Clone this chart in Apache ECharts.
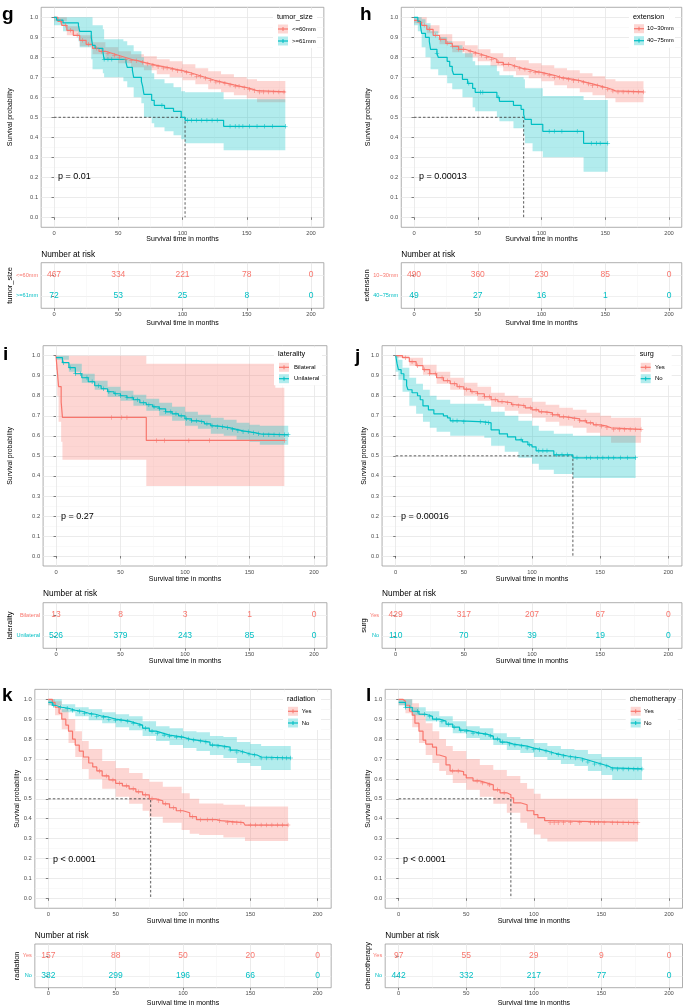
<!DOCTYPE html>
<html><head><meta charset="utf-8">
<script src="https://cdn.jsdelivr.net/npm/echarts/dist/echarts.min.js"></script>
<style>html,body{margin:0;padding:0;background:#fff}#c{width:685px;height:1008px}</style>
</head><body><div id="c"></div>
<script>
// ---------- tick labels ----------
const xTicks = [0, 50, 100, 150, 200];
const xMinor = [25, 75, 125, 175];
const yTicks = [0, 0.1, 0.2, 0.3, 0.4, 0.5, 0.6, 0.7, 0.8, 0.9, 1.0];
const yMinor = [0.05, 0.15, 0.25, 0.35, 0.45, 0.55, 0.65, 0.75, 0.85, 0.95];
const riskTimes = [0, 50, 100, 150, 200];

// ---------- panel g : tumor_size ----------
const gGroups = ['<=60mm', '>=61mm'];
const gRed = [[0,1.0],[3,0.98],[6,0.96],[10,0.935],[15,0.91],[20,0.885],[25,0.865],[30,0.845],[35,0.83],[40,0.82],[45,0.81],[50,0.80],[55,0.79],[60,0.783],[65,0.775],[70,0.767],[75,0.76],[80,0.753],[85,0.747],[90,0.74],[95,0.733],[100,0.725],[105,0.715],[110,0.705],[115,0.695],[120,0.685],[125,0.677],[130,0.67],[135,0.662],[140,0.655],[145,0.648],[150,0.64],[155,0.633],[158,0.627],[180,0.627]];
const gRedCI = [[0,0.98,1.0],[10,0.91,0.955],[20,0.855,0.91],[30,0.815,0.875],[40,0.79,0.85],[50,0.77,0.83],[60,0.75,0.815],[70,0.735,0.805],[80,0.715,0.79],[90,0.70,0.78],[100,0.685,0.765],[110,0.665,0.745],[120,0.64,0.73],[130,0.625,0.715],[140,0.61,0.70],[150,0.595,0.69],[158,0.575,0.682],[180,0.575,0.682]];
const gRedCens = [5,9,13,18,22,27,33,37,42,47,51,56,60,64,69,73,77,81,85,88,92,96,99,103,107,111,114,118,122,126,129,133,137,141,144,148,152,156,160,163,167,171,175,179];
const gTeal = [[0,1.0],[2,0.986],[7,0.972],[19,0.958],[20,0.93],[29,0.90],[30,0.86],[32,0.845],[38,0.83],[39,0.79],[54,0.79],[56,0.775],[57,0.75],[61,0.735],[62,0.70],[68,0.68],[69,0.655],[70,0.615],[76,0.585],[78,0.56],[86,0.545],[93,0.53],[99,0.50],[102,0.485],[132,0.455],[180,0.455]];
const gTealCI = [[0,0.96,1.0],[7,0.93,1.0],[19,0.88,1.0],[20,0.85,1.0],[29,0.79,1.0],[30,0.74,0.96],[38,0.72,0.94],[39,0.70,0.89],[54,0.68,0.88],[57,0.65,0.86],[62,0.60,0.83],[68,0.57,0.80],[70,0.50,0.76],[76,0.47,0.72],[78,0.45,0.69],[86,0.43,0.67],[93,0.41,0.65],[99,0.39,0.63],[102,0.37,0.625],[132,0.335,0.59],[180,0.335,0.59]];
const gTealCens = [39,42,45,84,104,107,111,115,119,123,127,137,141,144,147,152,158,164,170,180];
const gMedian = 102;
const gP = 'p = 0.01';
const gRiskA = [467, 334, 221, 78, 0];
const gRiskB = [72, 53, 25, 8, 0];

// ---------- panel h : extension ----------
const hGroups = ['10~30mm', '40~75mm'];
const hRed = [[0,0.985],[3,0.975],[6,0.96],[10,0.94],[15,0.91],[20,0.89],[25,0.87],[30,0.855],[35,0.84],[40,0.83],[45,0.82],[50,0.81],[55,0.80],[60,0.79],[65,0.775],[70,0.765],[75,0.755],[80,0.745],[85,0.74],[90,0.73],[95,0.725],[100,0.717],[105,0.71],[110,0.70],[115,0.695],[120,0.69],[125,0.683],[130,0.675],[135,0.667],[140,0.658],[145,0.65],[150,0.64],[155,0.632],[158,0.627],[180,0.627]];
const hRedCI = [[0,0.97,1.0],[10,0.92,0.96],[20,0.865,0.915],[30,0.825,0.88],[40,0.80,0.86],[50,0.78,0.84],[60,0.755,0.82],[70,0.73,0.80],[80,0.71,0.785],[90,0.695,0.77],[100,0.68,0.76],[110,0.66,0.745],[120,0.645,0.735],[130,0.625,0.72],[140,0.61,0.705],[150,0.595,0.69],[158,0.575,0.68],[180,0.575,0.68]];
const hRedCens = [4,8,12,17,21,26,30,35,39,44,48,53,57,61,66,70,74,79,83,87,91,95,98,102,106,110,114,117,121,125,129,133,137,140,144,148,152,156,160,164,168,172,176,180];
const hTeal = [[0,1.0],[3,0.98],[5,0.96],[6,0.92],[9,0.90],[12,0.88],[13,0.84],[18,0.82],[19,0.80],[26,0.78],[28,0.755],[30,0.735],[31,0.715],[38,0.69],[42,0.67],[46,0.645],[48,0.625],[65,0.60],[67,0.58],[78,0.56],[84,0.54],[86,0.515],[87,0.49],[92,0.465],[101,0.43],[133,0.37],[152,0.37]];
const hTealCI = [[0,0.96,1.0],[3,0.93,1.0],[6,0.85,0.99],[9,0.80,0.97],[13,0.74,0.93],[19,0.71,0.90],[26,0.67,0.88],[30,0.64,0.86],[38,0.60,0.82],[46,0.55,0.78],[48,0.53,0.76],[65,0.50,0.73],[67,0.48,0.71],[78,0.445,0.70],[86,0.41,0.69],[87,0.37,0.645],[93,0.33,0.645],[101,0.30,0.607],[133,0.228,0.587],[152,0.228,0.587]];
const hTealCens = [18,43,52,54,66,106,110,116,128,139,143,146,152];
const hMedian = 86;
const hP = 'p = 0.00013';
const hRiskA = [490, 360, 230, 85, 0];
const hRiskB = [49, 27, 16, 1, 0];

// ---------- panel i : laterality ----------
const iGroups = ['Bilateral', 'Unilateral'];
const iRed = [[0,1.0],[1,0.923],[2,0.846],[4,0.769],[5,0.692],[70,0.577],[177,0.577]];
const iRedCI = [[0,0.93,1.0],[1,0.80,1.0],[2,0.67,1.0],[4,0.57,1.0],[5,0.48,1.0],[70,0.35,0.96],[170,0.35,0.84],[177,0.35,0.84]];
const iRedCens = [43,51,55,78,84,103,119,177];
const iTeal = [[0,0.99],[5,0.965],[10,0.94],[15,0.91],[20,0.89],[25,0.87],[30,0.85],[35,0.835],[40,0.82],[45,0.81],[50,0.80],[55,0.79],[60,0.78],[65,0.765],[70,0.755],[75,0.745],[80,0.735],[85,0.72],[90,0.71],[95,0.70],[100,0.685],[105,0.675],[110,0.67],[115,0.66],[120,0.65],[125,0.645],[130,0.64],[135,0.632],[140,0.625],[145,0.62],[150,0.615],[155,0.61],[158,0.605],[180,0.605]];
const iTealCI = [[0,0.98,1.0],[10,0.92,0.96],[20,0.865,0.91],[30,0.83,0.875],[40,0.795,0.845],[50,0.775,0.825],[60,0.75,0.805],[70,0.725,0.785],[80,0.70,0.765],[90,0.675,0.745],[100,0.65,0.72],[110,0.635,0.705],[120,0.61,0.69],[130,0.60,0.68],[140,0.58,0.665],[150,0.57,0.655],[158,0.555,0.65],[180,0.55,0.65]];
const iTealCens = [6,11,15,19,24,28,33,37,41,46,50,55,59,63,68,72,76,80,85,89,93,97,101,105,109,113,117,121,125,129,133,137,141,145,149,153,157,161,165,169,173,177,180];
const iMedian = null;
const iP = 'p = 0.27';
const iRiskA = [13, 8, 3, 1, 0];
const iRiskB = [526, 379, 243, 85, 0];

// ---------- panel j : surg ----------
const jGroups = ['Yes', 'No'];
const jRed = [[0,1.0],[5,0.99],[10,0.97],[15,0.95],[20,0.93],[25,0.91],[30,0.89],[35,0.875],[40,0.86],[45,0.845],[50,0.833],[55,0.82],[60,0.81],[65,0.795],[70,0.78],[75,0.77],[80,0.765],[85,0.755],[90,0.75],[95,0.74],[100,0.73],[105,0.72],[110,0.715],[115,0.705],[120,0.695],[125,0.69],[130,0.685],[135,0.675],[140,0.665],[145,0.655],[150,0.648],[155,0.64],[158,0.632],[180,0.632]];
const jRedCI = [[0,0.99,1.0],[10,0.95,0.99],[20,0.905,0.955],[30,0.86,0.92],[40,0.83,0.89],[50,0.80,0.865],[60,0.775,0.845],[70,0.745,0.815],[80,0.725,0.80],[90,0.71,0.79],[100,0.69,0.77],[110,0.67,0.755],[120,0.65,0.74],[130,0.64,0.73],[140,0.615,0.715],[150,0.595,0.70],[158,0.565,0.69],[180,0.565,0.69]];
const jRedCens = [7,12,16,21,25,29,34,38,43,47,52,56,60,65,69,73,78,82,86,90,94,99,103,107,111,115,119,123,127,131,135,139,143,147,151,155,160,164,168,172,176,180];
const jTeal = [[0,1.0],[1,0.96],[2,0.93],[4,0.91],[6,0.88],[8,0.85],[9,0.83],[12,0.815],[16,0.80],[18,0.78],[20,0.75],[24,0.73],[28,0.71],[35,0.70],[38,0.69],[40,0.675],[48,0.67],[65,0.665],[70,0.63],[76,0.61],[82,0.595],[88,0.58],[93,0.57],[97,0.555],[100,0.545],[103,0.525],[116,0.505],[130,0.49],[176,0.49]];
const jTealCI = [[0,0.92,1.0],[2,0.88,0.98],[5,0.82,0.94],[10,0.75,0.89],[15,0.71,0.86],[20,0.67,0.83],[25,0.64,0.80],[30,0.62,0.78],[40,0.60,0.76],[65,0.59,0.75],[70,0.55,0.72],[80,0.52,0.70],[90,0.49,0.675],[100,0.46,0.65],[105,0.43,0.625],[116,0.41,0.61],[130,0.39,0.60],[176,0.39,0.60]];
const jTealCens = [42,45,50,62,66,68,92,98,105,108,111,118,122,126,133,140,143,148,152,156,160,165,170,176];
const jMedian = 130;
const jP = 'p = 0.00016';
const jRiskA = [429, 317, 207, 67, 0];
const jRiskB = [110, 70, 39, 19, 0];

// ---------- panel k : radiation ----------
const kGroups = ['Yes', 'No'];
const kRed = [[0,1.0],[3,0.985],[5,0.96],[8,0.93],[10,0.90],[13,0.87],[15,0.84],[18,0.80],[20,0.77],[23,0.74],[26,0.71],[30,0.68],[33,0.66],[36,0.64],[40,0.615],[45,0.595],[50,0.578],[55,0.565],[60,0.55],[65,0.535],[70,0.52],[75,0.50],[80,0.49],[85,0.475],[90,0.455],[95,0.44],[100,0.43],[105,0.41],[110,0.395],[125,0.39],[128,0.38],[145,0.375],[146,0.368],[178,0.368]];
const kRedCI = [[0,0.97,1.0],[5,0.92,0.99],[10,0.85,0.95],[15,0.78,0.90],[20,0.71,0.84],[25,0.65,0.79],[30,0.60,0.75],[40,0.55,0.69],[50,0.51,0.655],[60,0.475,0.63],[70,0.44,0.60],[75,0.41,0.586],[85,0.38,0.56],[99,0.343,0.528],[105,0.325,0.50],[112,0.318,0.477],[130,0.305,0.47],[146,0.288,0.461],[178,0.288,0.461]];
const kRedCens = [38,43,48,53,58,63,67,72,77,82,87,93,98,107,113,118,122,127,133,137,140,143,150,154,158,162,166,170,174,178];
const kTeal = [[0,0.985],[3,0.97],[5,0.96],[10,0.955],[15,0.945],[20,0.94],[25,0.93],[30,0.925],[35,0.915],[40,0.91],[45,0.90],[50,0.895],[55,0.89],[60,0.88],[65,0.87],[70,0.855],[75,0.84],[80,0.83],[85,0.82],[90,0.815],[95,0.81],[100,0.80],[105,0.795],[110,0.79],[115,0.785],[120,0.77],[125,0.765],[130,0.76],[135,0.745],[140,0.735],[145,0.725],[150,0.72],[155,0.71],[158,0.705],[180,0.705]];
const kTealCI = [[0,0.97,1.0],[10,0.935,0.975],[20,0.915,0.96],[30,0.895,0.95],[40,0.88,0.935],[50,0.86,0.925],[60,0.845,0.915],[70,0.815,0.89],[80,0.79,0.865],[90,0.77,0.855],[100,0.755,0.84],[110,0.74,0.835],[120,0.72,0.815],[130,0.705,0.81],[140,0.68,0.785],[150,0.665,0.775],[158,0.645,0.765],[180,0.645,0.765]];
const kTealCens = [4,9,14,18,23,27,32,36,41,45,50,54,59,63,68,72,77,81,86,90,95,99,104,108,113,117,122,126,131,135,140,144,149,153,158,162,166,170,174,177,180];
const kMedian = 76;
const kP = 'p < 0.0001';
const kRiskA = [157, 88, 50, 20, 0];
const kRiskB = [382, 299, 196, 66, 0];

// ---------- panel l : chemotherapy ----------
const lGroups = ['Yes', 'No'];
const lRed = [[0,1.0],[3,0.99],[5,0.97],[8,0.94],[10,0.92],[12,0.88],[15,0.84],[18,0.795],[20,0.775],[25,0.76],[28,0.72],[30,0.71],[35,0.67],[38,0.64],[45,0.637],[48,0.62],[50,0.605],[55,0.59],[60,0.58],[65,0.57],[70,0.545],[75,0.53],[80,0.52],[83,0.505],[85,0.48],[90,0.47],[95,0.44],[100,0.42],[103,0.405],[108,0.39],[110,0.38],[177,0.38]];
const lRedCI = [[0,0.97,1.0],[5,0.93,1.0],[10,0.86,0.98],[15,0.78,0.93],[20,0.72,0.88],[25,0.68,0.84],[30,0.64,0.80],[35,0.62,0.765],[40,0.58,0.74],[50,0.545,0.70],[60,0.51,0.67],[70,0.475,0.645],[80,0.43,0.615],[90,0.38,0.58],[95,0.35,0.55],[100,0.32,0.525],[105,0.30,0.50],[110,0.285,0.50],[177,0.285,0.50]];
const lRedCens = [40,44,58,62,67,73,78,112,115,118,122,127,134,142,145,148,152,158,162,166,170,174,177];
const lTeal = [[0,0.985],[5,0.96],[10,0.94],[15,0.925],[20,0.915],[25,0.90],[30,0.89],[35,0.875],[40,0.86],[45,0.845],[50,0.838],[55,0.83],[60,0.825],[65,0.815],[70,0.80],[75,0.785],[80,0.775],[85,0.77],[90,0.765],[95,0.755],[100,0.748],[105,0.74],[110,0.73],[115,0.722],[120,0.715],[125,0.71],[130,0.705],[135,0.695],[140,0.685],[145,0.675],[150,0.665],[155,0.655],[158,0.65],[180,0.65]];
const lTealCI = [[0,0.97,1.0],[10,0.92,0.96],[20,0.89,0.94],[30,0.86,0.915],[40,0.83,0.89],[50,0.805,0.865],[60,0.795,0.855],[70,0.77,0.83],[80,0.745,0.81],[90,0.73,0.80],[100,0.71,0.78],[110,0.695,0.765],[120,0.675,0.75],[130,0.665,0.745],[140,0.64,0.725],[150,0.62,0.71],[158,0.595,0.71],[180,0.595,0.71]];
const lTealCens = [5,9,14,19,23,28,32,37,41,46,50,55,59,64,68,73,77,82,86,91,95,100,104,109,113,118,122,127,131,136,140,145,149,154,158,162,166,170,174,177,180];
const lMedian = 83;
const lP = 'p < 0.0001';
const lRiskA = [97, 55, 29, 9, 0];
const lRiskB = [442, 332, 217, 77, 0];

// ---------- styling ----------
const RED = '#F8766D', TEAL = '#00BFC4';
const RED_BAND = 'rgba(248,118,109,0.30)', TEAL_BAND = 'rgba(0,191,196,0.30)';
const FONT = '"Liberation Sans", Arial, Helvetica, sans-serif';

const panels = [
  {letter:'g', title:'tumor_size', groups:gGroups, p:gP, lines:[gRed,gTeal], cens:[gRedCens,gTealCens], ci:[gRedCI,gTealCI], median:gMedian, risk:[gRiskA,gRiskB],
   L:{x0:54,x200:311,y1:17.3,y0:217.3,tabTop:262.7,tabBot:308.3,letX:2,letY:15,yTitX:10,tabTitX:10,pX:58,pY:177,xTitY:239,narY:255,tabXTitY:323,legX:278,legY:17,legW:44,legLab:14,legD1:12,legD2:24}},
  {letter:'h', title:'extension', groups:hGroups, p:hP, lines:[hRed,hTeal], cens:[hRedCens,hTealCens], ci:[hRedCI,hTealCI], median:hMedian, risk:[hRiskA,hRiskB],
   L:{x0:414,x200:669,y1:17.3,y0:217.3,tabTop:262.7,tabBot:308.3,letX:360,letY:15,yTitX:368,tabTitX:367,pX:419,pY:177,xTitY:239,narY:255,tabXTitY:323,legX:634,legY:16.7,legW:46,legLab:13,legD1:12,legD2:24}},
  {letter:'i', title:'laterality', groups:iGroups, p:iP, lines:[iRed,iTeal], cens:[iRedCens,iTealCens], ci:[iRedCI,iTealCI], median:iMedian, risk:[iRiskA,iRiskB],
   L:{x0:56,x200:314,y1:355.7,y0:556,tabTop:602.7,tabBot:648.3,letX:3,letY:355,yTitX:10,tabTitX:10,pX:61,pY:516.7,xTitY:579,narY:594,tabXTitY:661.5,legX:279,legY:354.3,legW:48,legLab:15,legD1:13,legD2:24.4}},
  {letter:'j', title:'surg', groups:jGroups, p:jP, lines:[jRed,jTeal], cens:[jRedCens,jTealCens], ci:[jRedCI,jTealCI], median:jMedian, risk:[jRiskA,jRiskB],
   L:{x0:395.7,x200:668.3,y1:355.7,y0:556,tabTop:602.7,tabBot:648.3,letX:355,letY:357,yTitX:364,tabTitX:364,pX:401,pY:516.7,xTitY:579,narY:594,tabXTitY:661.5,legX:640.7,legY:354.3,legW:36,legLab:14.3,legD1:13,legD2:24.4}},
  {letter:'k', title:'radiation', groups:kGroups, p:kP, lines:[kRed,kTeal], cens:[kRedCens,kTealCens], ci:[kRedCI,kTealCI], median:kMedian, risk:[kRiskA,kRiskB],
   L:{x0:48.3,x200:317.7,y1:699.3,y0:898.3,tabTop:944,tabBot:987.7,letX:2,letY:696,yTitX:17,tabTitX:16.7,pX:53,pY:860,xTitY:921,narY:935.7,tabXTitY:1002.7,legX:288,legY:699,legW:38,legLab:13.7,legD1:12.3,legD2:24}},
  {letter:'l', title:'chemotherapy', groups:lGroups, p:lP, lines:[lRed,lTeal], cens:[lRedCens,lTealCens], ci:[lRedCI,lTealCI], median:lMedian, risk:[lRiskA,lRiskB],
   L:{x0:398.7,x200:669,y1:699.3,y0:898.3,tabTop:944,tabBot:987.7,letX:366,letY:695.5,yTitX:368,tabTitX:368,pX:403,pY:860,xTitY:921,narY:935.7,tabXTitY:1002.7,legX:630.7,legY:699,legW:52,legLab:13.3,legD1:12.3,legD2:24}}
];

// ---------- builders ----------
const grids = [], xAxes = [], yAxes = [], series = [], gfx = [];
const PLUS = 'path://M4.4,0h1.2v10h-1.2z M0,4.4h10v1.2h-10z';

function stepAt(line, t) {
  let v = line[0][1];
  for (const p of line) { if (p[0] <= t) v = p[1]; else break; }
  return v;
}
function txt(x, y, text, size, opts) {
  opts = opts || {};
  return Object.assign({type:'text', x:x, y:y, z:60, silent:true,
    style:{text:text, fontSize:size, fontFamily:FONT, fill:opts.fill||'#000', fontWeight:opts.bold?'bold':'normal',
      align:opts.align||'left', verticalAlign:'middle'}}, opts.rot ? {rotation:Math.PI/2} : {});
}
function xAxisPair(gi, showLabels) {
  const a = xAxes.length;
  xAxes.push({gridIndex:gi, type:'value', min:-10, max:210, position:'bottom',
    axisLine:{show:false},
    axisTick:{show:true, customValues:xTicks, length:2.5, lineStyle:{color:'#333', width:0.6}},
    axisLabel:{show:showLabels, customValues:xTicks, fontSize:5.8, color:'#4d4d4d', margin:3, fontFamily:FONT},
    splitLine:{show:true, lineStyle:{color:'#e6e6e6', width:0.8}}});
  xAxes.push({gridIndex:gi, type:'value', min:-10, max:210, position:'top',
    axisLine:{show:false}, axisTick:{show:false, customValues:xMinor}, axisLabel:{show:false},
    splitLine:{show:true, lineStyle:{color:'#f3f3f3', width:0.5}}});
  return a;
}

panels.forEach((P, k) => {
  const L = P.L;
  const sx = L.x200 - L.x0, sy = L.y0 - L.y1;
  const left = L.x0 - 0.05 * sx, width = 1.1 * sx;
  const top = L.y1 - 0.05 * sy, height = 1.1 * sy;
  const gPlot = grids.length;
  grids.push({left:left, top:top, width:width, height:height, show:true, borderColor:'#9a9a9a', borderWidth:0.8, backgroundColor:'#fff'});
  const gTab = grids.length;
  grids.push({left:left, top:L.tabTop, width:width, height:L.tabBot - L.tabTop, show:true, borderColor:'#9a9a9a', borderWidth:0.8, backgroundColor:'#fff'});

  // plot axes
  const xi = xAxisPair(gPlot, true);
  const yi = yAxes.length;
  yAxes.push({gridIndex:gPlot, type:'value', min:-0.05, max:1.05, position:'left',
    axisLine:{show:false},
    axisTick:{show:true, customValues:yTicks, length:2.5, lineStyle:{color:'#333', width:0.6}},
    axisLabel:{customValues:yTicks, fontSize:5.8, color:'#4d4d4d', margin:3, fontFamily:FONT, formatter:v => Number(v).toFixed(1)},
    splitLine:{show:true, lineStyle:{color:'#e6e6e6', width:0.8}}});
  yAxes.push({gridIndex:gPlot, type:'value', min:-0.05, max:1.05, position:'right',
    axisLine:{show:false}, axisTick:{show:false, customValues:yMinor}, axisLabel:{show:false},
    splitLine:{show:true, lineStyle:{color:'#f3f3f3', width:0.5}}});

  // table axes
  const txi = xAxisPair(gTab, true);
  const tyi = yAxes.length;
  yAxes.push({gridIndex:gTab, type:'value', min:0.4, max:2.6, inverse:true, position:'left',
    axisLine:{show:false},
    axisTick:{show:true, customValues:[1,2], length:2.5, lineStyle:{color:'#333', width:0.6}},
    axisLabel:{customValues:[1,2], margin:3, fontFamily:FONT,
      formatter:v => (Number(v) === 1 ? '{a|' + P.groups[0] + '}' : '{b|' + P.groups[1] + '}'),
      rich:{a:{color:RED, fontSize:5.6, fontFamily:FONT}, b:{color:TEAL, fontSize:5.6, fontFamily:FONT}}},
    splitLine:{show:true, lineStyle:{color:'#ececec', width:0.8}}});

  const cols = [RED, TEAL], bands = [RED_BAND, TEAL_BAND];
  // confidence bands
  P.ci.forEach((ci, gidx) => {
    series.push({type:'custom', xAxisIndex:xi, yAxisIndex:yi, silent:true, z:1, data:ci, encode:{x:0, y:[1,2]},
      renderItem:function (params, api) {
        if (params.dataIndex !== 0) return;
        const up = [], lo = [];
        for (let i = 0; i < ci.length; i++) {
          const t = ci[i][0];
          if (i > 0) { up.push(api.coord([t, ci[i-1][2]])); lo.push(api.coord([t, ci[i-1][1]])); }
          up.push(api.coord([t, ci[i][2]])); lo.push(api.coord([t, ci[i][1]]));
        }
        return {type:'polygon', shape:{points:up.concat(lo.reverse())}, style:{fill:bands[gidx]}};
      }});
  });
  // median lines
  if (P.median != null) {
    series.push({type:'line', xAxisIndex:xi, yAxisIndex:yi, z:2, silent:true, showSymbol:false,
      data:[[0,0.5],[P.median,0.5],[P.median,0]],
      lineStyle:{color:'#333', width:0.8, type:[2.5,2]}});
  }
  // survival curves
  P.lines.forEach((ln, gidx) => {
    series.push({type:'line', step:'end', xAxisIndex:xi, yAxisIndex:yi, z:3, silent:true, showSymbol:false,
      data:ln, lineStyle:{color:cols[gidx], width:1.2}});
    series.push({type:'scatter', xAxisIndex:xi, yAxisIndex:yi, z:4, silent:true, symbol:PLUS, symbolSize:4.5,
      data:P.cens[gidx].map(t => [t, stepAt(ln, t)]), itemStyle:{color:cols[gidx], opacity:1}});
  });
  // risk table numbers
  P.risk.forEach((row, gidx) => {
    series.push({type:'custom', xAxisIndex:txi, yAxisIndex:tyi, z:5, silent:true,
      data:row.map((n, i) => [riskTimes[i], gidx + 1, n]),
      encode:{x:0, y:1},
      renderItem:function (params, api) {
        const c = api.coord([api.value(0), api.value(1)]);
        return {type:'text', x:c[0], y:c[1],
          style:{text:String(api.value(2)), fill:cols[gidx], fontSize:8.5, fontFamily:FONT, align:'center', verticalAlign:'middle', opacity:1}};
      }});
  });

  // texts
  gfx.push(txt(L.letX, L.letY, P.letter, 19, {bold:true}));
  gfx.push(txt(L.yTitX, (L.y1 + L.y0) / 2, 'Survival probability', 6.9, {align:'center', rot:true}));
  gfx.push(txt((L.x0 + L.x200) / 2, L.xTitY, 'Survival time in months', 7, {align:'center'}));
  gfx.push(txt(L.pX, L.pY, P.p, 9));
  gfx.push(txt(left, L.narY, 'Number at risk', 8.3));
  gfx.push(txt(L.tabTitX, (L.tabTop + L.tabBot) / 2, P.title, 7.5, {align:'center', rot:true}));
  gfx.push(txt((L.x0 + L.x200) / 2, L.tabXTitY, 'Survival time in months', 7, {align:'center'}));

  // legend
  gfx.push({type:'rect', z:55, silent:true, shape:{x:L.legX - 5, y:L.legY - 7, width:L.legW, height:38}, style:{fill:'#fff'}});
  gfx.push(txt(L.legX - 1, L.legY, P.title, 7.3));
  [L.legD1, L.legD2].forEach((d, gidx) => {
    const cy = L.legY + d;
    gfx.push({type:'rect', z:56, silent:true, shape:{x:L.legX, y:cy - 4.5, width:10, height:9}, style:{fill:bands[gidx]}});
    gfx.push({type:'line', z:57, silent:true, shape:{x1:L.legX, y1:cy, x2:L.legX + 10, y2:cy}, style:{stroke:cols[gidx], lineWidth:1.2}});
    gfx.push({type:'line', z:57, silent:true, shape:{x1:L.legX + 5, y1:cy - 2, x2:L.legX + 5, y2:cy + 2}, style:{stroke:cols[gidx], lineWidth:1}});
    gfx.push(txt(L.legX + L.legLab, cy, P.groups[gidx], 6));
  });
});

const chart = echarts.init(document.getElementById('c'), null, {renderer:'canvas', width:685, height:1008});
chart.setOption({
  backgroundColor:'#fff',
  animation:false,
  textStyle:{fontFamily:FONT},
  grid:grids, xAxis:xAxes, yAxis:yAxes, series:series,
  graphic:{elements:gfx}
});
</script></body></html>
